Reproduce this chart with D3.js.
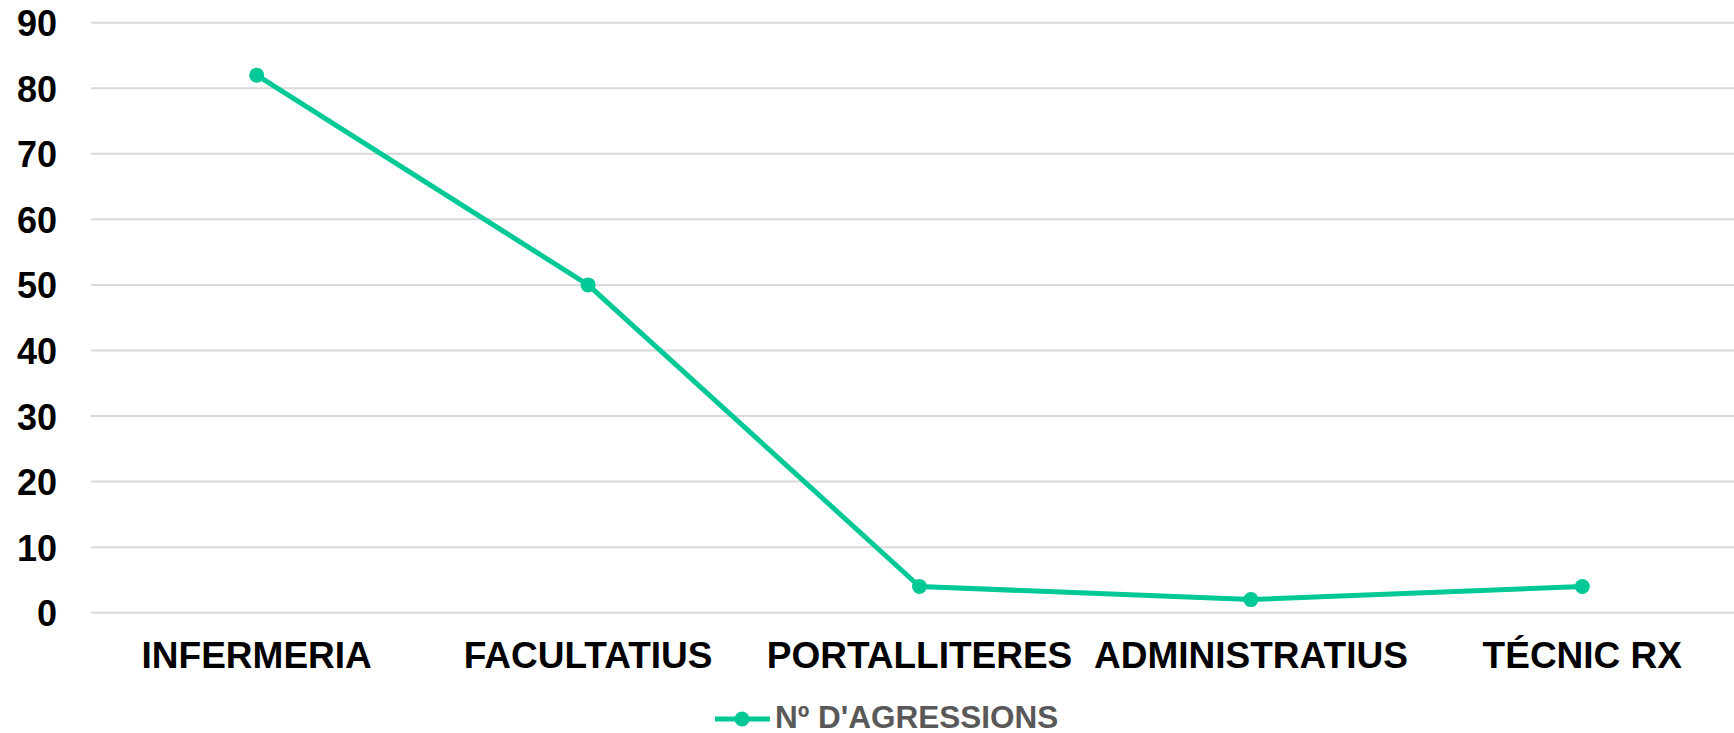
<!DOCTYPE html>
<html>
<head>
<meta charset="utf-8">
<script src="https://cdn.jsdelivr.net/npm/d3@7"></script>
<style>
  body { margin: 0; background: #fff; }
  text { font-family: "Liberation Sans", Arial, sans-serif; font-weight: bold; }
</style>
</head>
<body>
<div id="chart"></div>
<script>
// data
var categories = ["INFERMERIA", "FACULTATIUS", "PORTALLITERES", "ADMINISTRATIUS", "TÉCNIC RX"];
var values = [82, 50, 4, 2, 4];
var yTicks = [0, 10, 20, 30, 40, 50, 60, 70, 80, 90];
var seriesName = "Nº D'AGRESSIONS";

var W = 1734, H = 733;
var plotLeft = 91, plotTop = 22.7, plotBottom = 612.7;
var step = 331.4;
var color = "#00c896";

var svg = d3.select("#chart").append("svg")
    .attr("width", W)
    .attr("height", H);

// scales
var x = d3.scaleBand()
    .domain(categories)
    .range([plotLeft, plotLeft + step * categories.length])
    .padding(0);
var y = d3.scaleLinear()
    .domain([0, 90])
    .range([plotBottom, plotTop]);

// gridlines
svg.append("g").selectAll("line")
    .data(yTicks)
    .enter().append("line")
      .attr("x1", plotLeft).attr("x2", W)
      .attr("y1", function(d) { return y(d); })
      .attr("y2", function(d) { return y(d); })
      .style("stroke", "#d9d9d9").style("stroke-width", 2);

// y axis labels
var yAxis = svg.append("g")
    .attr("transform", "translate(" + (plotLeft - 34) + ",0)")
    .call(d3.axisLeft(y).tickValues(yTicks).tickSize(0).tickPadding(0));
yAxis.select(".domain").remove();
yAxis.selectAll("text")
    .attr("dy", "0.36em")
    .style("font-size", "36px")
    .style("fill", "#000");

// x axis labels
var xAxis = svg.append("g")
    .attr("transform", "translate(0," + plotBottom + ")")
    .call(d3.axisBottom(x).tickSize(0).tickPadding(0));
xAxis.select(".domain").remove();
xAxis.selectAll("text")
    .attr("y", 55)
    .attr("dy", 0)
    .style("font-size", "37px")
    .style("fill", "#000");

// line
var cx = function(d, i) { return x(categories[i]) + x.bandwidth() / 2; };
var line = d3.line()
    .x(cx)
    .y(function(d) { return y(d); });

svg.append("path")
    .datum(values)
    .attr("d", line)
    .style("fill", "none")
    .style("stroke", color)
    .style("stroke-width", 5)
    .style("stroke-linejoin", "round");

svg.append("g").selectAll("circle")
    .data(values)
    .enter().append("circle")
      .attr("cx", cx)
      .attr("cy", function(d) { return y(d); })
      .attr("r", 7.5)
      .style("fill", color);

// legend
var lg = svg.append("g").attr("transform", "translate(715,719)");
lg.append("line")
    .attr("x1", 0).attr("x2", 55)
    .style("stroke", color).style("stroke-width", 5);
lg.append("circle")
    .attr("cx", 27).attr("r", 7.5)
    .style("fill", color);
lg.append("text")
    .attr("x", 60)
    .attr("y", 9)
    .style("font-size", "31.5px")
    .style("fill", "#595959")
    .text(seriesName);
</script>
</body>
</html>
